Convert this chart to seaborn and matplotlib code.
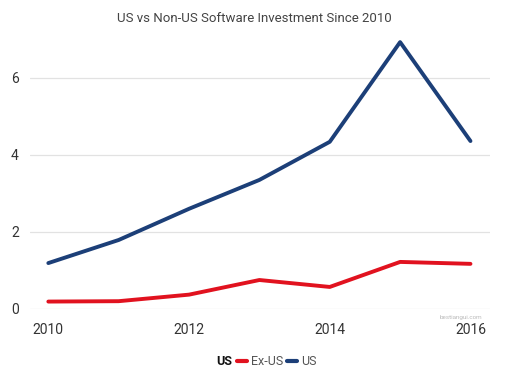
import matplotlib
matplotlib.use("Agg")
import matplotlib.pyplot as plt
import seaborn as sns
import pandas as pd
from matplotlib.lines import Line2D

years = [2010, 2011, 2012, 2013, 2014, 2015, 2016]
us = [1.19, 1.79, 2.60, 3.35, 4.34, 6.93, 4.36]
ex_us = [0.19, 0.20, 0.37, 0.75, 0.57, 1.22, 1.17]
series_names = ["Ex-US", "US"]
colors = {"Ex-US": "#e1121f", "US": "#1c3f78"}

df = pd.DataFrame({
    "year": years * 2,
    "value": ex_us + us,
    "series": ["Ex-US"] * len(years) + ["US"] * len(years),
})

sns.set_theme(style="white")
plt.rcParams["font.family"] = ["Roboto", "DejaVu Sans"]

fig = plt.figure(figsize=(5.09, 3.79), dpi=100)
ax = fig.add_axes([0.059, 0.185, 0.904, 0.711])
sns.lineplot(data=df, x="year", y="value", hue="series", palette=colors,
             hue_order=series_names, linewidth=2.8, ax=ax, legend=False)

ax.set_xlim(2009.74, 2016.28)
ax.set_ylim(0, 7)
ax.set_xticks([2010, 2012, 2014, 2016])
ax.set_yticks([0, 2, 4, 6])
ax.tick_params(axis="both", length=0, labelsize=10, colors="#333333")
ax.tick_params(axis="x", pad=10)
ax.tick_params(axis="y", pad=8)
ax.grid(axis="y", color="#e2e2e2", linewidth=0.9)
for s in ax.spines.values():
    s.set_visible(False)
ax.set_xlabel("")
ax.set_ylabel("")

fig.text(0.5, 0.95, "US vs Non-US Software Investment Since 2010", ha="center",
         va="center", fontsize=9.5, color="#444444")

handles = [Line2D([], [], color="none"),
           Line2D([], [], color=colors["Ex-US"], linewidth=3),
           Line2D([], [], color=colors["US"], linewidth=3)]
labels = ["US", "Ex-US", "US"]
leg = fig.legend(handles, labels, loc="center", bbox_to_anchor=(0.51, 0.045),
                 ncol=3, frameon=False, fontsize=9, handlelength=0.8,
                 handletextpad=0.3, columnspacing=0.35)
texts = leg.get_texts()
texts[0].set_fontweight("bold")
texts[0].set_color("#111111")
for t in texts[1:]:
    t.set_color("#555555")
leg.legend_handles[0].set_visible(False)

fig.text(0.905, 0.163, "bestiangui.com", fontsize=4.5, color="#bbbbbb",
         ha="center", va="center")

fig.savefig("out.png", dpi=100)
